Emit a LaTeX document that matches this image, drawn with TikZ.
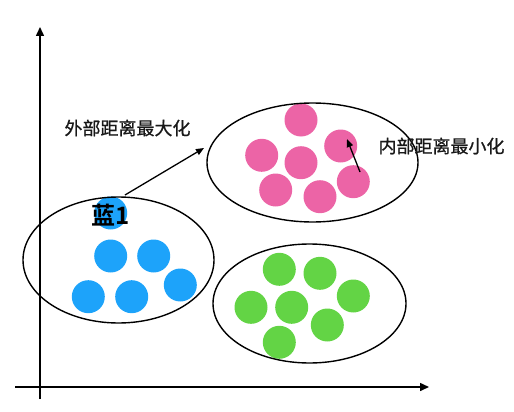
\documentclass[tikz,border=0pt]{standalone}
\usepackage{fontspec}
\newfontfamily\cjk{Noto Sans CJK SC}[FakeBold=0.8]
\newfontfamily\cjkbold{Noto Sans CJK SC Bold}
\usetikzlibrary{shapes.geometric,arrows.meta}
\definecolor{blueC}{RGB}{29,163,250}
\definecolor{pinkC}{RGB}{236,100,166}
\definecolor{greenC}{RGB}{99,212,69}
\tikzset{
  dot/.style={circle,inner sep=0pt,minimum size=33pt,draw=none},
  cluster/.style={ellipse,draw=black,line width=1.4pt,inner sep=0pt},
  lbl/.style={font=\cjk\fontsize{18}{20}\selectfont,inner sep=0pt,text=black!90},
  axis/.style={line width=1.5pt,-{Triangle[length=9pt,width=8pt]}},
  conn/.style={line width=1.3pt,-{Triangle[length=8pt,width=6.5pt]}}
}
\begin{document}
\begin{tikzpicture}[x=1pt,y=-1pt]
\useasboundingbox (0,0) rectangle (514,412);
% axes
\coordinate (yb) at (40,399);
\coordinate (yt) at (40,27);
\coordinate (xl) at (15,387);
\coordinate (xr) at (429,387);
\draw[axis] (yb) -- (yt);
\draw[axis] (xl) -- (xr);
% blue dots
\node[dot,fill=blueC] (b0) at (110.7,213) {};
\node[dot,fill=blueC] (b1) at (110.7,256) {};
\node[dot,fill=blueC] (b2) at (153.7,256) {};
\node[dot,fill=blueC] (b3) at (88.3,296.7) {};
\node[dot,fill=blueC] (b4) at (131.7,296.7) {};
\node[dot,fill=blueC] (b5) at (180.3,285) {};
% pink dots
\node[dot,fill=pinkC] (p1) at (301,120) {};
\node[dot,fill=pinkC] (p2) at (340.7,146) {};
\node[dot,fill=pinkC] (p3) at (261.7,155.3) {};
\node[dot,fill=pinkC] (p4) at (301,162.7) {};
\node[dot,fill=pinkC] (p5) at (275.7,190) {};
\node[dot,fill=pinkC] (p6) at (320,196.7) {};
\node[dot,fill=pinkC] (p7) at (353.3,181.7) {};
% green dots
\node[dot,fill=greenC] (g1) at (279.3,269.3) {};
\node[dot,fill=greenC] (g2) at (320,273.3) {};
\node[dot,fill=greenC] (g3) at (353.3,296) {};
\node[dot,fill=greenC] (g4) at (251,307.3) {};
\node[dot,fill=greenC] (g5) at (291.7,307.3) {};
\node[dot,fill=greenC] (g6) at (327.3,325) {};
\node[dot,fill=greenC] (g7) at (279.3,342.3) {};
% clusters
\node[cluster,minimum width=191pt,minimum height=126pt] (cb) at (118.5,260) {};
\node[cluster,minimum width=211pt,minimum height=119pt] (cp) at (312.5,162.5) {};
\node[cluster,minimum width=193pt,minimum height=119pt] (cg) at (309.5,303.5) {};
% labels
\node[lbl] (outer) at (127.5,128) {外部距离最大化};
\node[lbl] (inner) at (441.5,146) {内部距离最小化};
\node[font=\cjkbold\fontsize{24}{26}\selectfont,inner sep=0pt] (lan) at (111,215) {蓝1};
% connectors
\coordinate (os) at (125,195);
\coordinate (oe) at (204,148);
\draw[conn] (os) -- (oe);
\coordinate (is) at (360,172);
\coordinate (ie) at (347,139);
\draw[conn] (is) -- (ie);
\end{tikzpicture}
\end{document}
